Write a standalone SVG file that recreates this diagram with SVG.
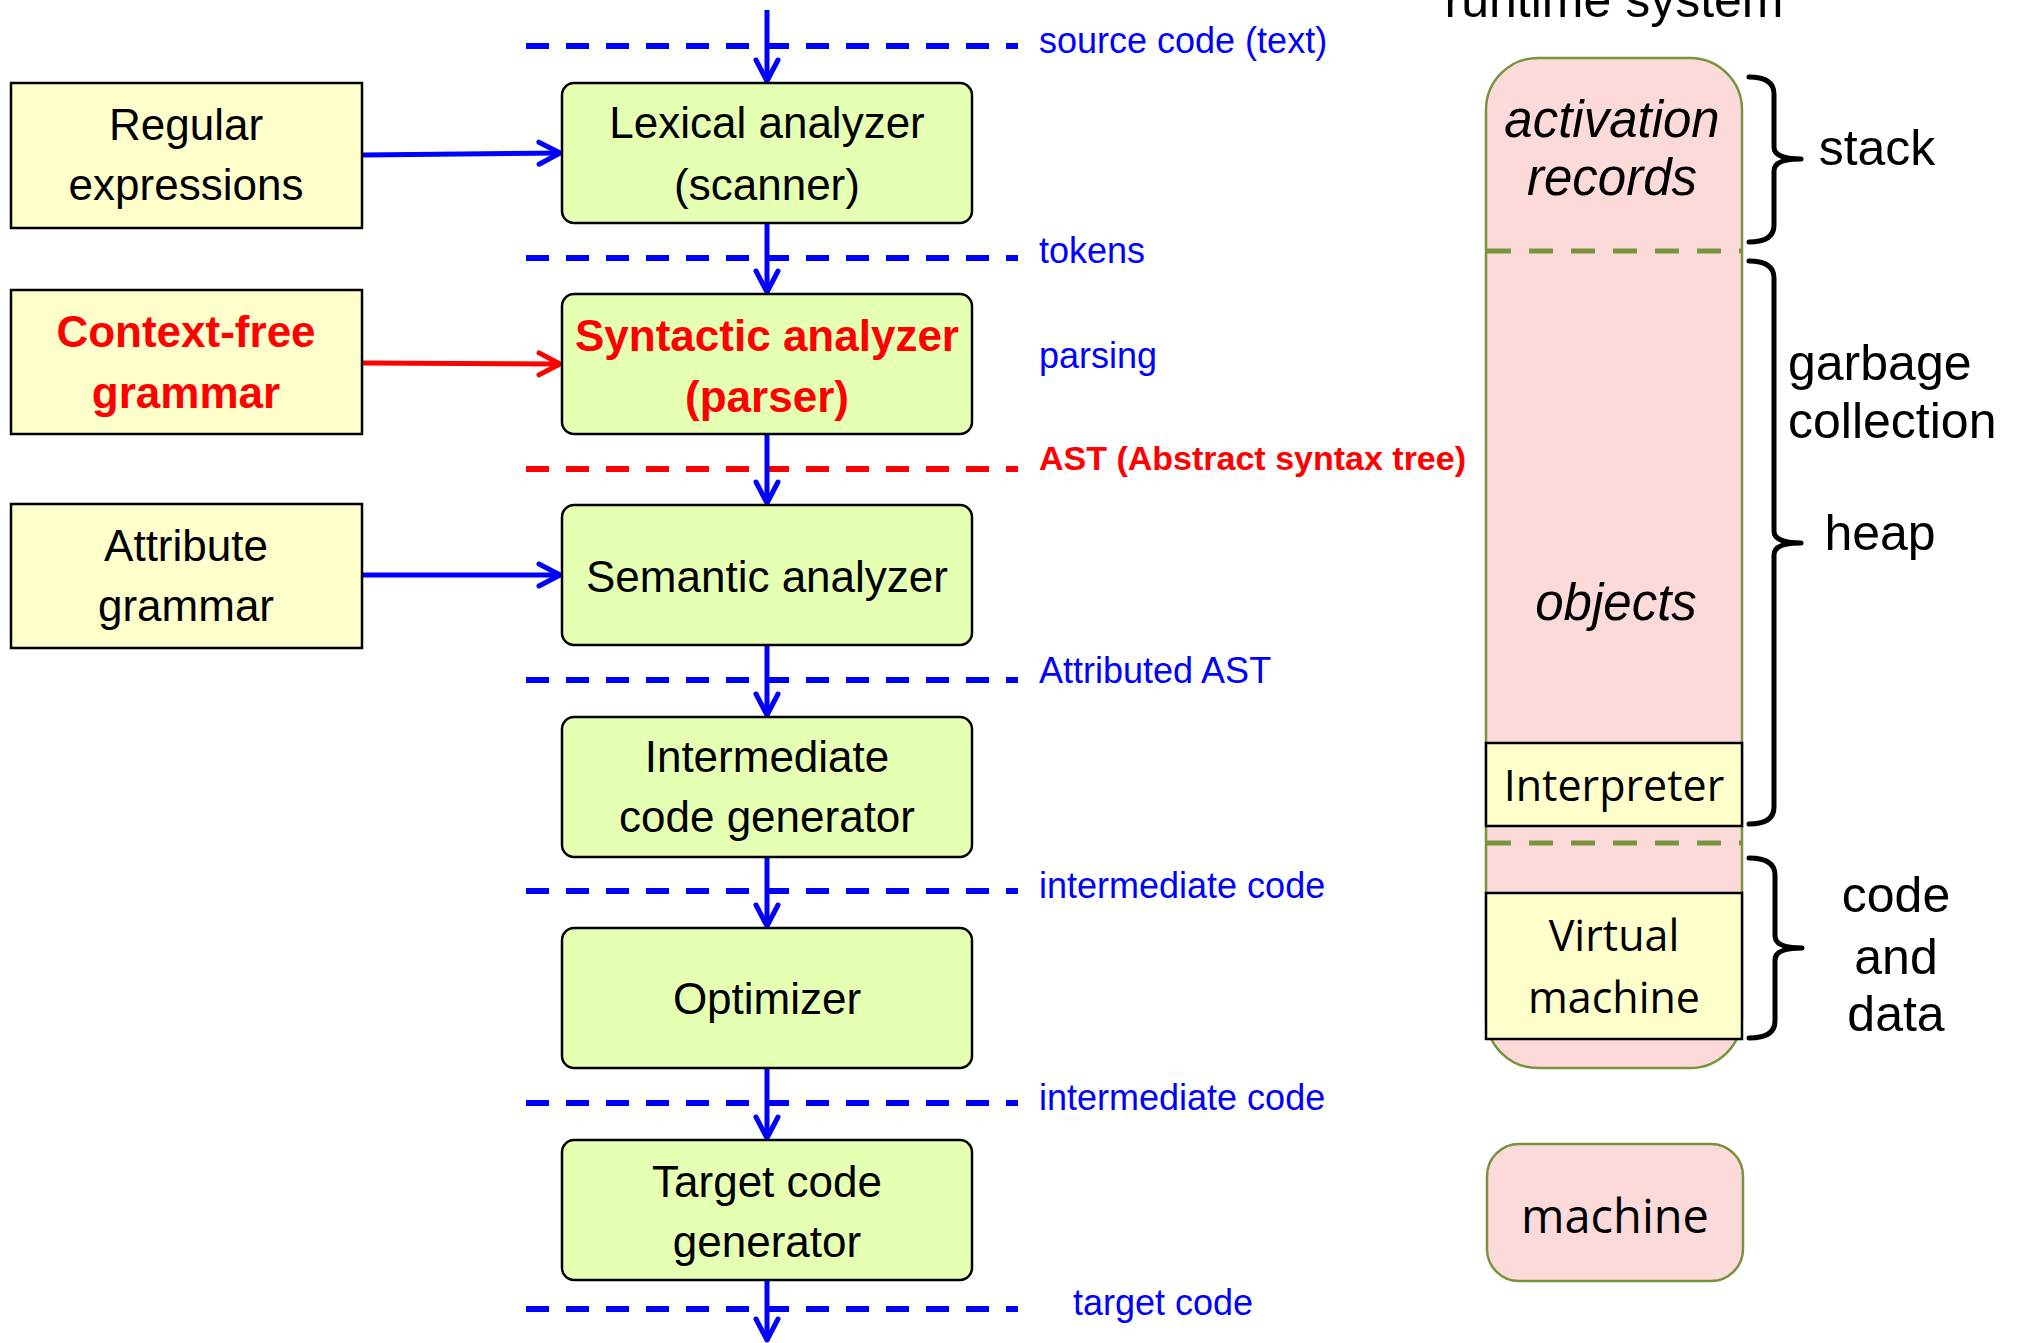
<svg xmlns="http://www.w3.org/2000/svg" width="2018" height="1343" viewBox="0 0 2018 1343">
<style>
.src{fill:#FFFFCC;stroke:#000;stroke-width:2.5}
.stage{fill:#E5FFB3;stroke:#000;stroke-width:2.5}
.t{font-family:"Liberation Sans",Arial,sans-serif;font-size:44px;fill:#000;text-anchor:middle}
.tb{font-family:"Liberation Sans",Arial,sans-serif;font-size:44px;font-weight:bold;fill:#FF0000;text-anchor:middle}
.lbl{font-family:"Liberation Sans",Arial,sans-serif;font-size:36px;fill:#0000FF}
.lblr{font-family:"Liberation Sans",Arial,sans-serif;font-size:34px;font-weight:bold;fill:#FF0000}
.dash{stroke:#0000FF;stroke-width:6;stroke-dasharray:23 17;fill:none}
.dashr{stroke:#FF0000;stroke-width:6;stroke-dasharray:23 17;fill:none}
.gdash{stroke:#77933C;stroke-width:5;stroke-dasharray:24 18;fill:none}
.flow{stroke:#0000FF;stroke-width:5;fill:none}
.flowr{stroke:#FF0000;stroke-width:5;fill:none}
.pink{fill:#FDDADA;stroke:#77933C;stroke-width:2.5}
.box{fill:#FFFFCC;stroke:#000;stroke-width:2.5}
.rt{font-family:"Liberation Sans",Arial,sans-serif;font-size:50px;fill:#000;text-anchor:middle}
.rti{font-family:"Liberation Sans",Arial,sans-serif;font-size:51px;font-style:italic;fill:#000;text-anchor:middle}
.ot{font-family:"Open Sans","DejaVu Sans",sans-serif;font-size:43px;fill:#000;text-anchor:middle}
.brace{stroke:#000;stroke-width:5;fill:none;stroke-linecap:round;stroke-linejoin:round}
</style>
<defs>
<marker id="ab" markerUnits="userSpaceOnUse" viewBox="-26 -15 30 30" refX="0" refY="0" markerWidth="30" markerHeight="30" orient="auto">
<path d="M-21,-11 L0,0 L-21,11" fill="none" stroke="#0000FF" stroke-width="5" stroke-linecap="round" stroke-linejoin="round"/>
</marker>
<marker id="ar" markerUnits="userSpaceOnUse" viewBox="-26 -15 30 30" refX="0" refY="0" markerWidth="30" markerHeight="30" orient="auto">
<path d="M-21,-11 L0,0 L-21,11" fill="none" stroke="#FF0000" stroke-width="5" stroke-linecap="round" stroke-linejoin="round"/>
</marker>
</defs>
<rect width="2018" height="1343" fill="#FFFFFF"/>

<g id="separators">
<line class="dash" x1="526" y1="46" x2="1018" y2="46"/>
<line class="dash" x1="526" y1="258" x2="1018" y2="258"/>
<line class="dashr" x1="526" y1="469" x2="1018" y2="469"/>
<line class="dash" x1="526" y1="680" x2="1018" y2="680"/>
<line class="dash" x1="526" y1="891" x2="1018" y2="891"/>
<line class="dash" x1="526" y1="1103" x2="1018" y2="1103"/>
<line class="dash" x1="526" y1="1309" x2="1018" y2="1309"/>
</g>

<g id="connectors">
<line class="flow" x1="767" y1="10" x2="767" y2="81" marker-end="url(#ab)"/>
<line class="flow" x1="767" y1="223" x2="767" y2="292" marker-end="url(#ab)"/>
<line class="flow" x1="767" y1="434" x2="767" y2="503" marker-end="url(#ab)"/>
<line class="flow" x1="767" y1="645" x2="767" y2="715" marker-end="url(#ab)"/>
<line class="flow" x1="767" y1="857" x2="767" y2="926" marker-end="url(#ab)"/>
<line class="flow" x1="767" y1="1068" x2="767" y2="1138" marker-end="url(#ab)"/>
<line class="flow" x1="767" y1="1280" x2="767" y2="1340" marker-end="url(#ab)"/>
<line class="flow" x1="363" y1="155" x2="560" y2="153" marker-end="url(#ab)"/>
<line class="flowr" x1="363" y1="363" x2="560" y2="364" marker-end="url(#ar)"/>
<line class="flow" x1="363" y1="575" x2="560" y2="575" marker-end="url(#ab)"/>
</g>

<g id="labels">
<text class="lbl" x="1039" y="53">source code (text)</text>
<text class="lbl" x="1039" y="263">tokens</text>
<text class="lbl" x="1039" y="368">parsing</text>
<text class="lblr" x="1039" y="470">AST (Abstract syntax tree)</text>
<text class="lbl" x="1039" y="683">Attributed AST</text>
<text class="lbl" x="1039" y="898">intermediate code</text>
<text class="lbl" x="1039" y="1110">intermediate code</text>
<text class="lbl" x="1073" y="1315">target code</text>
</g>

<g id="regex">
<rect class="src" x="11" y="83" width="351" height="145"/>
<text class="t" x="186" y="140">Regular</text>
<text class="t" x="186" y="200">expressions</text>
</g>
<g id="cfg">
<rect class="src" x="11" y="290" width="351" height="144"/>
<text class="tb" x="186" y="347">Context-free</text>
<text class="tb" x="186" y="408">grammar</text>
</g>
<g id="attrgram">
<rect class="src" x="11" y="504" width="351" height="144"/>
<text class="t" x="186" y="561">Attribute</text>
<text class="t" x="186" y="621">grammar</text>
</g>

<g id="lexer">
<rect class="stage" x="562" y="83" width="410" height="140" rx="12"/>
<text class="t" x="767" y="138">Lexical analyzer</text>
<text class="t" x="767" y="200">(scanner)</text>
</g>
<g id="parser">
<rect class="stage" x="562" y="294" width="410" height="140" rx="12"/>
<text class="tb" x="767" y="351">Syntactic analyzer</text>
<text class="tb" x="767" y="412">(parser)</text>
</g>
<g id="semantic">
<rect class="stage" x="562" y="505" width="410" height="140" rx="12"/>
<text class="t" x="767" y="592">Semantic analyzer</text>
</g>
<g id="icg">
<rect class="stage" x="562" y="717" width="410" height="140" rx="12"/>
<text class="t" x="767" y="772">Intermediate</text>
<text class="t" x="767" y="832">code generator</text>
</g>
<g id="optimizer">
<rect class="stage" x="562" y="928" width="410" height="140" rx="12"/>
<text class="t" x="767" y="1014">Optimizer</text>
</g>
<g id="tcg">
<rect class="stage" x="562" y="1140" width="410" height="140" rx="12"/>
<text class="t" x="767" y="1197">Target code</text>
<text class="t" x="767" y="1257">generator</text>
</g>

<g id="runtime">
<text class="rt" x="1614" y="17">runtime system</text>
<rect class="pink" x="1486" y="58" width="256" height="1010" rx="52"/>
<line class="gdash" x1="1487" y1="251" x2="1741" y2="251"/>
<line class="gdash" x1="1487" y1="843" x2="1741" y2="843"/>
<text class="rti" x="1612" y="137">activation</text>
<text class="rti" x="1612" y="195">records</text>
<text class="rti" x="1616" y="620">objects</text>
</g>
<g id="interpreter">
<rect class="box" x="1486" y="743" width="256" height="83"/>
<text class="ot" x="1614" y="801">Interpreter</text>
</g>
<g id="vm">
<rect class="box" x="1486" y="893" width="256" height="146"/>
<text class="ot" x="1614" y="951">Virtual</text>
<text class="ot" x="1614" y="1013">machine</text>
</g>
<g id="machine">
<rect class="pink" x="1487" y="1144" width="256" height="137" rx="32"/>
<text class="ot" x="1615" y="1233" style="font-size:47px">machine</text>
</g>

<g id="braces">
<path class="brace" d="M1749,77 Q1774,77 1774,94 L1774,147 Q1774,159 1801,159 Q1774,159 1774,171 L1774,225 Q1774,242 1749,242"/>
<path class="brace" d="M1749,261 Q1774,261 1774,278 L1774,531 Q1774,543 1801,543 Q1774,543 1774,555 L1774,807 Q1774,824 1749,824"/>
<path class="brace" d="M1749,858 Q1775,858 1775,875 L1775,936 Q1775,948 1802,948 Q1775,948 1775,960 L1775,1021 Q1775,1038 1749,1038"/>
<text class="rt" x="1877" y="165">stack</text>
<text class="rt" x="1788" y="380" style="text-anchor:start">garbage</text>
<text class="rt" x="1788" y="438" style="text-anchor:start">collection</text>
<text class="rt" x="1880" y="550">heap</text>
<text class="rt" x="1896" y="912">code</text>
<text class="rt" x="1896" y="974">and</text>
<text class="rt" x="1896" y="1031">data</text>
</g>
</svg>
